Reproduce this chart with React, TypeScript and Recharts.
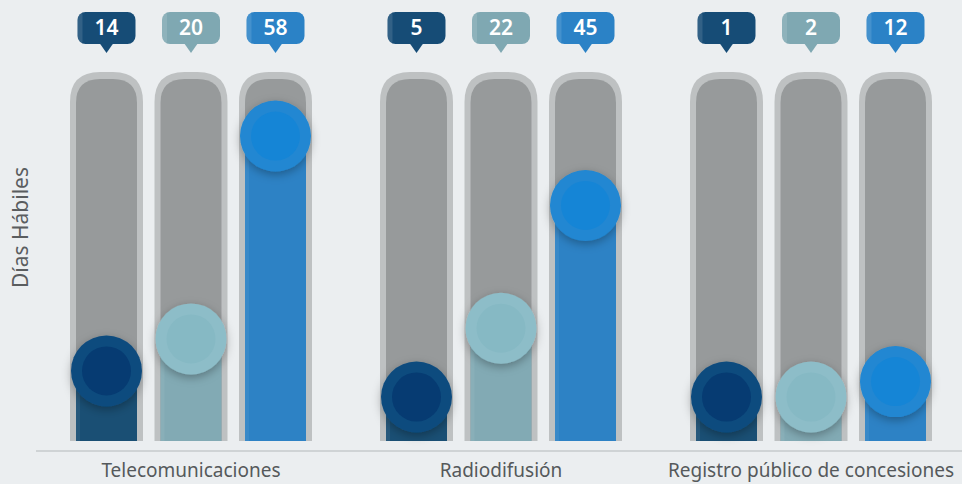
import { Bar, BarChart, LabelList, XAxis, YAxis } from "recharts";

const categories = ["Telecomunicaciones", "Radiodifusión", "Registro público de concesiones"];
const serieA = [14, 5, 1];
const serieB = [20, 22, 2];
const serieC = [58, 45, 12];

const data = categories.map((name, i) => ({ name, a: serieA[i], b: serieB[i], c: serieC[i] }));

type Palette = { tag: string; fill: string; ring: string; core: string };

const palettes: Record<string, Palette> = {
  a: { tag: "#164c76", fill: "#1a4f74", ring: "#0e4b7e", core: "#063b72" },
  b: { tag: "#7fa8b2", fill: "#82aab4", ring: "#8dbdc8", core: "#86b9c4" },
  c: { tag: "#2b82c6", fill: "#2d82c5", ring: "#2087d2", core: "#1585d6" },
};

const FONT = "'Noto Sans', sans-serif";
const BOTTOM_GAP = 10;
const R = 35.5;

const Pill = (props: any) => {
  const { x, y, width, height } = props;
  const bottom = y + height - BOTTOM_GAP;
  const outer = `M${x},${bottom} L${x},${y + 30} Q${x},${y} ${x + 30},${y} L${x + width - 30},${y} Q${x + width},${y} ${x + width},${y + 30} L${x + width},${bottom} Z`;
  const ix = x + 6;
  const iw = width - 12;
  const iy = y + 7;
  const inner = `M${ix},${bottom} L${ix},${iy + 24} Q${ix},${iy} ${ix + 24},${iy} L${ix + iw - 24},${iy} Q${ix + iw},${iy} ${ix + iw},${iy + 24} L${ix + iw},${bottom} Z`;
  return (
    <g>
      <path d={outer} fill="#bec1c2" />
      <path d={inner} fill="#979a9b" />
    </g>
  );
};

const makeShape = (key: string) => (props: any) => {
  const { x, y, width, background } = props;
  const p = palettes[key];
  const bottom = background ? background.y + background.height - BOTTOM_GAP : y + props.height;
  const cx = x + width / 2;
  const cy = Math.min(y, bottom - 44);
  return (
    <g>
      <rect x={x + 6} y={cy} width={width - 12} height={bottom - cy} fill={p.fill} />
      <rect x={x + 6} y={cy} width={4} height={bottom - cy} fill="#ffffff" opacity={0.06} />
      <circle cx={cx} cy={cy} r={R} fill={p.ring} filter="url(#knobShadow)" />
      <circle cx={cx} cy={cy} r={24.5} fill={p.core} />
    </g>
  );
};

const makeTag = (key: string) => (props: any) => {
  const { x, width, value } = props;
  const p = palettes[key];
  const cx = x + width / 2;
  const top = 12;
  const w = 58;
  const h = 32;
  return (
    <g>
      <rect x={cx - w / 2} y={top} width={w} height={h} rx={8} fill={p.tag} />
      <rect x={cx - w / 2} y={top} width={5} height={h} rx={3} fill="#ffffff" opacity={0.12} />
      <path d={`M${cx - 7},${top + h - 1} L${cx + 7},${top + h - 1} L${cx},${top + h + 9} Z`} fill={p.tag} />
      <text
        x={cx}
        y={top + h / 2 + 7}
        textAnchor="middle"
        fill="#ffffff"
        fontFamily={FONT}
        fontWeight={600}
        fontSize={21}
      >
        {value}
      </text>
    </g>
  );
};

const YLabel = (props: any) => {
  const vb = props.viewBox;
  const x = vb.x + 20;
  const y = vb.y + vb.height / 2 - 34;
  return (
    <text
      x={x}
      y={y}
      transform={`rotate(-90, ${x}, ${y})`}
      textAnchor="middle"
      dominantBaseline="central"
      fill="#5a5d5f"
      fontFamily={FONT}
      fontSize={21}
    >
      Días Hábiles
    </text>
  );
};

const CategoryTick = (props: any) => {
  const { x, y, payload } = props;
  return (
    <text x={x} y={y + 18} textAnchor="middle" fill="#55595b" fontFamily={FONT} fontSize={19}>
      {payload.value}
    </text>
  );
};

export default function App() {
  return (
    <div style={{ position: "fixed", left: 0, top: 0, width: 962, height: 484, overflow: "hidden", background: "#ebeef0" }}>
      <BarChart
        width={966}
        height={484}
        data={data}
        margin={{ top: 72, right: 0, left: 0, bottom: 0 }}
        barSize={73}
        barGap={11.5}
      >
        <defs>
          <filter id="knobShadow" x="-50%" y="-50%" width="200%" height="200%">
            <feDropShadow dx={0} dy={3} stdDeviation={5} floodColor="#000" floodOpacity={0.3} />
          </filter>
        </defs>
        <XAxis
          dataKey="name"
          height={33}
          tickLine={false}
          axisLine={{ stroke: "#c6cacc", strokeWidth: 1.5 }}
          tick={<CategoryTick />}
          interval={0}
        />
        <YAxis width={36} domain={[-1, 70]} tick={false} axisLine={false} tickLine={false} label={<YLabel />} />
        {(["a", "b", "c"] as const).map((key) => (
          <Bar
            key={key}
            dataKey={key}
            isAnimationActive={false}
            background={<Pill />}
            shape={makeShape(key)}
          >
            <LabelList dataKey={key} content={makeTag(key)} />
          </Bar>
        ))}
      </BarChart>
    </div>
  );
}
